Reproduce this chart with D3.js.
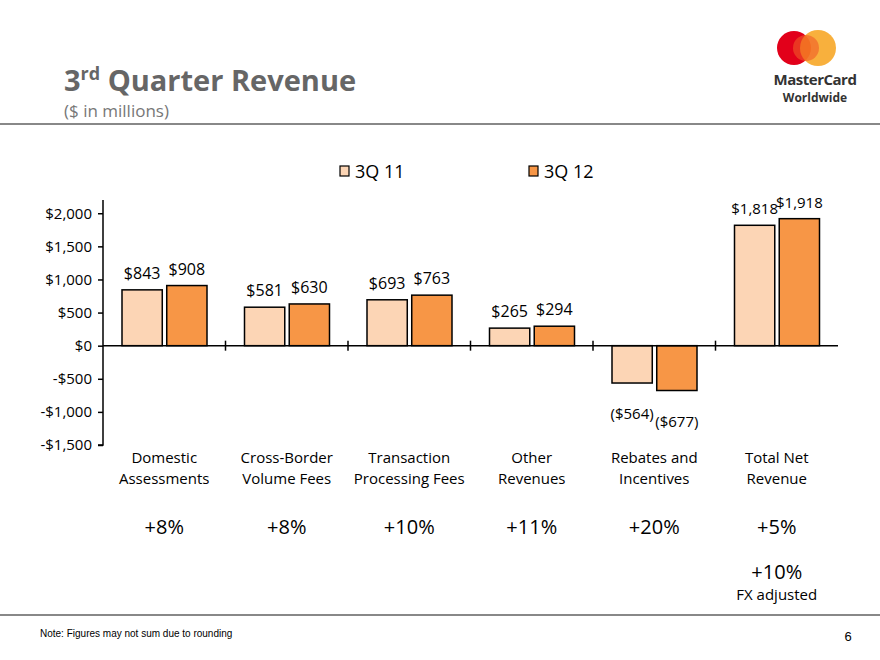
<!DOCTYPE html>
<html>
<head>
<meta charset="utf-8">
<script src="https://cdn.jsdelivr.net/npm/d3@7"></script>
<style>
  body { margin: 0; background: #fff; }
  svg { display: block; font-family: "Open Sans", sans-serif; }
</style>
</head>
<body>
<svg width="880" height="660"></svg>
<script>
var categories = [["Domestic", "Assessments"], ["Cross-Border", "Volume Fees"], ["Transaction", "Processing Fees"],
  ["Other", "Revenues"], ["Rebates and", "Incentives"], ["Total Net", "Revenue"]];
var series = ["3Q 11", "3Q 12"];
var q311 = [843, 581, 693, 265, -564, 1818];
var q312 = [908, 630, 763, 294, -677, 1918];
var growth = ["+8%", "+8%", "+10%", "+11%", "+20%", "+5%"];
var yTicks = [2000, 1500, 1000, 500, 0, -500, -1000, -1500];

var colors = {"3Q 11": "#fcd5b5", "3Q 12": "#f79646"};

var svg = d3.select("svg");

// header
svg.append("text").attr("x", 64).attr("y", 91).attr("fill", "#666")
  .attr("font-size", 29).attr("font-weight", "bold")
  .call(function(t) {
    t.append("tspan").text("3");
    t.append("tspan").attr("font-size", 18).attr("dy", -11).text("rd");
    t.append("tspan").attr("dy", 11).text(" Quarter Revenue");
  });
svg.append("text").attr("x", 64).attr("y", 117).attr("fill", "#777")
  .attr("font-size", 17).text("($ in millions)");
svg.append("line").attr("x1", 0).attr("x2", 880).attr("y1", 124).attr("y2", 124)
  .attr("stroke", "#888").attr("stroke-width", 2);

// logo
var logo = svg.append("g");
logo.append("circle").attr("cx", 794).attr("cy", 48).attr("r", 17).attr("fill", "#e2001a");
logo.append("circle").attr("cx", 818).attr("cy", 48).attr("r", 18).attr("fill", "#f7a21b").attr("opacity", 0.85);
logo.append("circle").attr("cx", 806).attr("cy", 48).attr("r", 13).attr("fill", "#f05a28").attr("opacity", 0.6);
logo.append("text").attr("x", 815).attr("y", 85).attr("text-anchor", "middle")
  .attr("font-size", 15).attr("font-weight", "bold").attr("fill", "#333").attr("letter-spacing", -0.5).text("MasterCard");
logo.append("text").attr("x", 815).attr("y", 102).attr("text-anchor", "middle")
  .attr("font-size", 12).attr("font-weight", "bold").attr("fill", "#333").text("Worldwide");

// scales
var x0 = d3.scaleBand().domain(d3.range(categories.length)).range([103, 838]);
var x1 = d3.scaleBand().domain(series).range([19, 104]).paddingInner(0.1);
var y = d3.scaleLinear().domain([-1500, 2200]).range([445, 200]);

// y axis
var yAxis = svg.append("g").attr("transform", "translate(103,0)")
  .call(d3.axisLeft(y).tickValues(yTicks).tickSize(5).tickPadding(6)
    .tickFormat(function(d) { return (d < 0 ? "-$" : "$") + d3.format(",")(Math.abs(d)); }));
yAxis.select(".domain").attr("d", "M-5," + y(-1500) + "H0V" + y(2200)).attr("stroke-width", 1.5);
yAxis.selectAll(".tick line").attr("stroke-width", 1.5);
yAxis.selectAll("text").attr("font-size", 15).attr("font-family", "Open Sans").attr("fill", "#000");

// bars
var rows = series.map(function(s, k) {
  var vals = k === 0 ? q311 : q312;
  return vals.map(function(v, i) { return {s: s, i: i, v: v}; });
});
var bars = svg.append("g");
rows.forEach(function(row) {
  bars.selectAll(null).data(row).enter().append("rect")
    .attr("x", function(d) { return x0(d.i) + x1(d.s); })
    .attr("width", x1.bandwidth())
    .attr("y", function(d) { return y(Math.max(0, d.v)); })
    .attr("height", function(d) { return Math.abs(y(d.v) - y(0)); })
    .attr("fill", colors[row[0].s])
    .attr("stroke", "#000").attr("stroke-width", 1.5);

  bars.selectAll(null).data(row).enter().append("text")
    .attr("x", function(d) { return x0(d.i) + x1(d.s) + x1.bandwidth() / 2; })
    .attr("y", function(d) { return d.v >= 0 ? y(d.v) - 11 : y(d.v) + 36; })
    .attr("text-anchor", "middle")
    .attr("font-size", function(d) { return (d.v < 0 || d.v >= 1000) ? 15 : 16; })
    .text(function(d) { var t = "$" + d3.format(",")(Math.abs(d.v)); return d.v < 0 ? "(" + t + ")" : t; });
});

// zero line with category ticks
svg.append("line").attr("x1", 103).attr("x2", 838).attr("y1", y(0)).attr("y2", y(0))
  .attr("stroke", "#000").attr("stroke-width", 1.5);
svg.append("g").selectAll("line").data(d3.range(1, categories.length)).enter().append("line")
  .attr("x1", function(i) { return x0(i); }).attr("x2", function(i) { return x0(i); })
  .attr("y1", y(0) - 5).attr("y2", y(0) + 5)
  .attr("stroke", "#000").attr("stroke-width", 1.5);

// category labels
var cat = svg.append("g").selectAll("text").data(categories).enter().append("text")
  .attr("text-anchor", "middle").attr("font-size", 15);
cat.append("tspan").attr("x", function(d, i) { return x0(i) + x0.bandwidth() / 2; }).attr("y", 463)
  .text(function(d) { return d[0]; });
cat.append("tspan").attr("x", function(d, i) { return x0(i) + x0.bandwidth() / 2; }).attr("y", 484)
  .text(function(d) { return d[1]; });

// growth row
svg.append("g").selectAll("text").data(growth).enter().append("text")
  .attr("x", function(d, i) { return x0(i) + x0.bandwidth() / 2; }).attr("y", 534)
  .attr("text-anchor", "middle").attr("font-size", 20).text(function(d) { return d; });
svg.append("text").attr("x", x0(5) + x0.bandwidth() / 2).attr("y", 579)
  .attr("text-anchor", "middle").attr("font-size", 20).text("+10%");
svg.append("text").attr("x", x0(5) + x0.bandwidth() / 2).attr("y", 600)
  .attr("text-anchor", "middle").attr("font-size", 15).text("FX adjusted");

// legend
var legend = svg.append("g").selectAll("g").data(series).enter().append("g")
  .attr("transform", function(d, i) { return "translate(" + (340 + i * 189) + ",0)"; });
legend.append("rect").attr("x", 0).attr("y", 166).attr("width", 9).attr("height", 10)
  .attr("fill", function(d) { return colors[d]; }).attr("stroke", "#000").attr("stroke-width", 1.2);
legend.append("text").attr("x", 15).attr("y", 178).attr("font-size", 18).text(function(d) { return d; });

// footer
svg.append("line").attr("x1", 0).attr("x2", 880).attr("y1", 615).attr("y2", 615)
  .attr("stroke", "#888").attr("stroke-width", 2);
svg.append("text").attr("x", 40).attr("y", 637).attr("font-size", 10)
  .attr("font-family", "Liberation Sans Narrow, Liberation Sans, Arial").text("Note: Figures may not sum due to rounding");
svg.append("text").attr("x", 848).attr("y", 641).attr("text-anchor", "middle").attr("font-size", 13)
  .attr("font-family", "Liberation Sans Narrow, Liberation Sans, Arial").text("6");
</script>
</body>
</html>
